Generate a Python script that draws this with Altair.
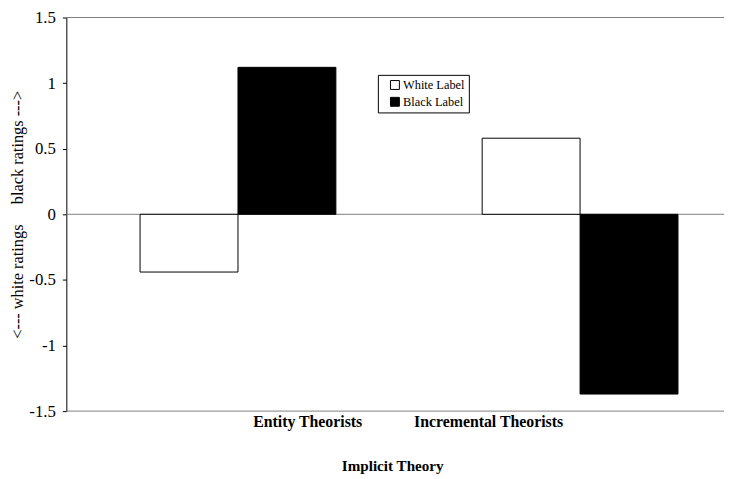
import altair as alt
import pandas as pd

categories = ["Entity Theorists", "Incremental Theorists"]
series = ["White Label", "Black Label"]
white_vals = [-0.44, 0.58]
black_vals = [1.12, -1.37]
ref_lines = [1.5, 0, -1.5]
y_ticks = [-1.5, -1, -0.5, 0, 0.5, 1, 1.5]

rows = []
for c, w, b in zip(categories, white_vals, black_vals):
    rows.append({"theory": c, "label": series[0], "value": w})
    rows.append({"theory": c, "label": series[1], "value": b})
df = pd.DataFrame(rows)
lines_df = pd.DataFrame({"y": ref_lines})

FONT = "Liberation Serif"

x_enc = alt.X(
    "theory:N",
    sort=categories,
    scale=alt.Scale(range=[0, 693], paddingInner=0.4276, paddingOuter=0.2155),
    axis=alt.Axis(
        title="Implicit Theory",
        domain=False,
        ticks=False,
        labelAngle=0,
        labelFont=FONT,
        labelFontSize=16,
        labelFontWeight="bold",
        labelColor="black",
        labelBaseline="middle",
        labelPadding=11,
        labelOffset={"condition": {"test": "datum.value == 'Entity Theorists'", "value": 70.5}, "value": -92.5},
        titleFont=FONT,
        titleFontSize=15.3,
        titleFontWeight="bold",
        titleColor="black",
        titleX=329.5,
        titleY=55,
        titleBaseline="middle",
        titleAlign="center",
    ),
)

y_scale = alt.Scale(domain=[-1.5, 1.5], nice=False, zero=False)

rules = alt.Chart(lines_df).mark_rule(color="#808080", strokeWidth=1).encode(
    y=alt.Y("y:Q", scale=y_scale)
)

bars = alt.Chart(df).mark_bar(stroke="black", strokeWidth=1).encode(
    x=x_enc,
    xOffset=alt.XOffset("label:N", sort=series, scale=alt.Scale(domain=series)),
    y=alt.Y(
        "value:Q",
        scale=y_scale,
        axis=alt.Axis(
            title="<--- white ratings\u00a0\u00a0\u00a0\u00a0 black ratings --->",
            values=y_ticks,
            labelExpr="toString(datum.value)",
            grid=False,
            domainColor="black",
            tickColor="black",
            tickSize=4,
            labelPadding=7,
            labelFont=FONT,
            labelFontSize=17,
            labelColor="black",
            titleFont=FONT,
            titleFontSize=16.5,
            titleFontWeight="normal",
            titleColor="black",
            titleX=-49.5,
            titleY=199,
            titleBaseline="middle",
            titleAlign="center",
        ),
    ),
    color=alt.Color(
        "label:N",
        sort=series,
        scale=alt.Scale(domain=series, range=["white", "black"]),
        legend=alt.Legend(
            title=None,
            orient="none",
            legendX=315,
            legendY=58,
            strokeColor="black",
            fillColor="white",
            padding=4,
            symbolType="square",
            symbolSize=81,
            symbolStrokeColor="black",
            symbolStrokeWidth=1,
            symbolOffset=7,
            labelFont=FONT,
            labelFontSize=12.5,
            labelColor="black",
            labelOffset=2,
            rowPadding=3,
        ),
    ),
)

chart = (
    alt.layer(rules, bars)
    .properties(
        width=665,
        height=398,
        autosize=alt.AutoSizeParams(type="none"),
        padding={"left": 59, "top": 7, "right": 0, "bottom": 62},
        background="white",
    )
    .configure_view(stroke=None)
)

chart.save("out.html", embed_options={"renderer": "svg", "actions": False})
